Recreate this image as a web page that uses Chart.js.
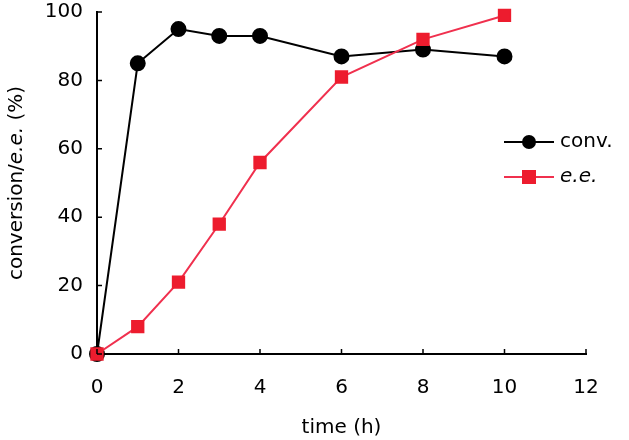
<!DOCTYPE html>
<html>
<head>
<meta charset="utf-8">
<script src="https://cdn.jsdelivr.net/npm/chart.js@4"></script>
<style>
    html, body { margin: 0; padding: 0; background: #fff; }
    #wrap { width: 629px; height: 440px; }
</style>
</head>
<body>
<div id="wrap"><canvas id="timeChart" width="629" height="440"></canvas></div>
<script>
const times = [0, 1, 2, 3, 4, 6, 8, 10];
const conversion = [0, 85, 95, 93, 93, 87, 89, 87];
const enantiomericExcess = [0, 8, 21, 38, 56, 81, 92, 99];
const xTicks = [0, 2, 4, 6, 8, 10, 12];
const yTicks = [0, 20, 40, 60, 80, 100];

const fontFamily = "'DejaVu Sans', Verdana, sans-serif";
const fontSize = 20;
const red = "#ed1c2e";
const redLine = "#f0304e";

// inward tick marks, the y title with italic e.e., and the legend
const decorations = {
    id: "decorations",
    afterDraw(chart) {
        const ctx = chart.ctx;
        const x = chart.scales.x;
        const y = chart.scales.y;
        const area = chart.chartArea;
        ctx.save();
        ctx.strokeStyle = "#000";
        ctx.lineWidth = 1.5;
        ctx.beginPath();
        xTicks.forEach(v => {
            const px = x.getPixelForValue(v);
            ctx.moveTo(px, area.bottom);
            ctx.lineTo(px, area.bottom - 5);
        });
        yTicks.forEach(v => {
            const py = y.getPixelForValue(v);
            ctx.moveTo(area.left, py);
            ctx.lineTo(area.left + 5, py);
        });
        ctx.stroke();

        // y axis title
        const parts = [["conversion/", false], ["e.e.", true], [" (%)", false]];
        ctx.translate(17, (area.top + area.bottom) / 2);
        ctx.rotate(-Math.PI / 2);
        ctx.fillStyle = "#000";
        ctx.textBaseline = "middle";
        let total = 0;
        parts.forEach(([t, it]) => {
            ctx.font = (it ? "italic " : "") + fontSize + "px " + fontFamily;
            total += ctx.measureText(t).width;
        });
        let cx = -total / 2;
        parts.forEach(([t, it]) => {
            ctx.font = (it ? "italic " : "") + fontSize + "px " + fontFamily;
            ctx.textAlign = "left";
            ctx.fillText(t, cx, 0);
            cx += ctx.measureText(t).width;
        });
        ctx.restore();

        // legend
        ctx.save();
        const items = [
            { label: "conv.", italic: false, color: "#000", line: "#000", shape: "circle", y: 142 },
            { label: "e.e.", italic: true, color: red, line: redLine, shape: "square", y: 177 }
        ];
        items.forEach(it => {
            ctx.strokeStyle = it.line;
            ctx.lineWidth = 2;
            ctx.beginPath();
            ctx.moveTo(504, it.y);
            ctx.lineTo(554, it.y);
            ctx.stroke();
            ctx.fillStyle = it.color;
            if (it.shape === "circle") {
                ctx.beginPath();
                ctx.arc(529, it.y, 7, 0, Math.PI * 2);
                ctx.fill();
            } else {
                ctx.fillRect(522, it.y - 7, 14, 14);
            }
            ctx.fillStyle = "#000";
            ctx.font = (it.italic ? "italic " : "") + fontSize + "px " + fontFamily;
            ctx.textBaseline = "middle";
            ctx.textAlign = "left";
            ctx.fillText(it.label, 560, it.y);
        });
        ctx.restore();
    }
};

new Chart(document.getElementById("timeChart"), {
    type: "line",
    data: {
        datasets: [{
            label: "e.e.",
            data: times.map((t, i) => ({ x: t, y: enantiomericExcess[i] })),
            borderColor: redLine,
            backgroundColor: red,
            pointBackgroundColor: red,
            pointBorderColor: red,
            pointStyle: "rect",
            pointRadius: 8,
            borderWidth: 2,
            order: 0
        }, {
            label: "conv.",
            data: times.map((t, i) => ({ x: t, y: conversion[i] })),
            borderColor: "#000",
            backgroundColor: "#000",
            pointBackgroundColor: "#000",
            pointStyle: "circle",
            pointRadius: 7,
            borderWidth: 2,
            order: 1
        }]
    },
    options: {
        responsive: false,
        animation: false,
        clip: false,
        layout: { autoPadding: false, padding: { top: 12, right: 43, left: 0, bottom: 0 } },
        plugins: {
            legend: { display: false },
            tooltip: { enabled: false }
        },
        scales: {
            x: {
                type: "linear",
                min: 0,
                max: 12,
                afterBuildTicks: s => { s.ticks = xTicks.map(v => ({ value: v })); },
                afterFit: s => { s.height = 86; s.paddingLeft = 0; s.paddingRight = 0; },
                grid: { display: false, drawTicks: false },
                border: { display: true, color: "#000", width: 2 },
                ticks: { color: "#000", padding: 22, font: { family: fontFamily, size: fontSize } },
                title: {
                    display: true,
                    text: "time (h)",
                    color: "#000",
                    padding: { top: 0, bottom: 0 },
                    font: { family: fontFamily, size: fontSize }
                }
            },
            y: {
                min: 0,
                max: 100,
                afterBuildTicks: s => { s.ticks = yTicks.map(v => ({ value: v })); },
                afterFit: s => { s.width = 97; s.paddingTop = 0; s.paddingBottom = 0; },
                grid: { display: false, drawTicks: false },
                border: { display: true, color: "#000", width: 2 },
                ticks: { color: "#000", padding: 14, font: { family: fontFamily, size: fontSize } }
            }
        }
    },
    plugins: [decorations]
});
</script>
</body>
</html>
